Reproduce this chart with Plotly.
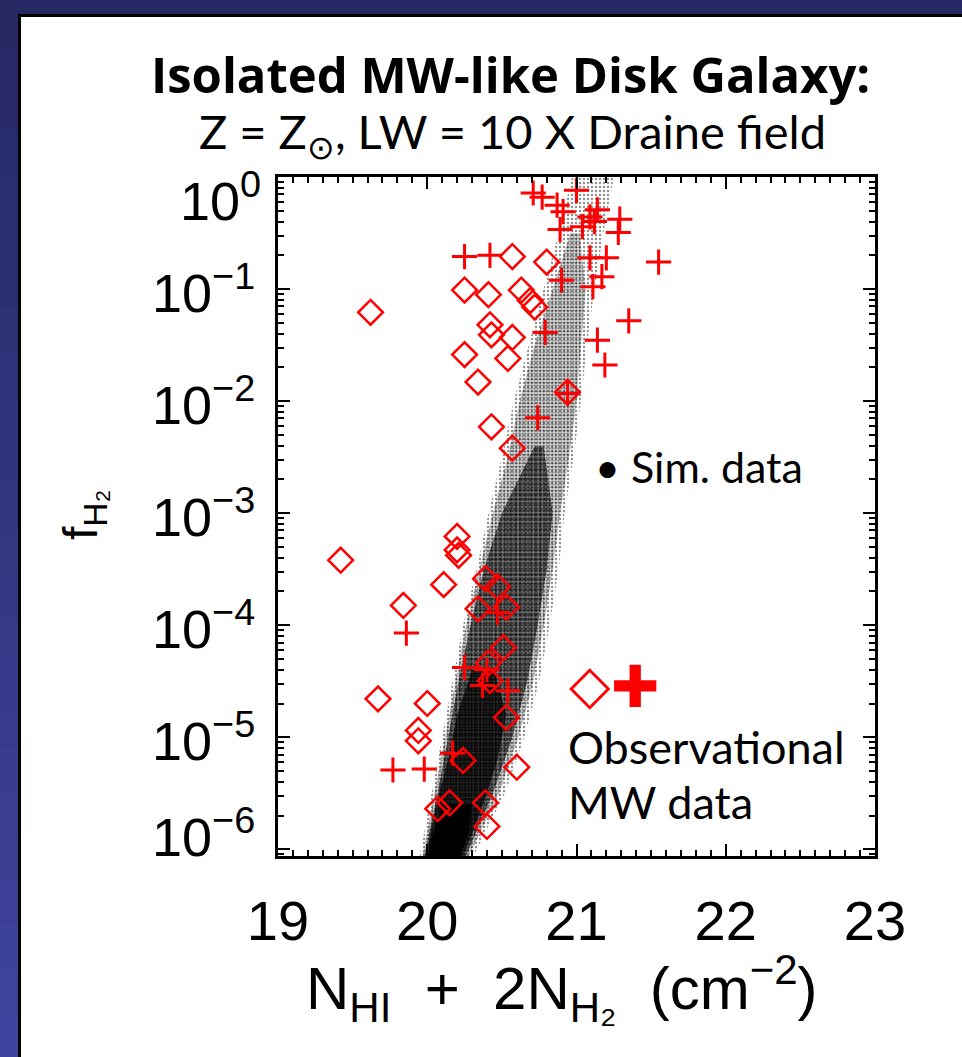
import math
import plotly.graph_objects as go

# ---------------- data ----------------
# Simulation cloud, described by its band edges at several log10(f_H2) levels
sim_logf        = [-6.06, -5.5, -5.0, -4.5, -4.0, -3.5, -3.0, -2.5, -2.0, -1.5, -1.0, -0.5, 0.0]
sim_outer_left  = [19.95, 20.03, 20.10, 20.17, 20.24, 20.33, 20.41, 20.50, 20.58, 20.68, 20.78, 20.88, 20.97]
sim_outer_right = [20.31, 20.52, 20.65, 20.75, 20.82, 20.88, 20.92, 20.98, 21.03, 21.07, 21.12, 21.18, 21.25]

sim_mid_logf    = [-6.06, -5.5, -5.0, -4.5, -4.0, -3.5, -3.0, -2.5, -2.0, -1.5, -1.0, -0.5]
sim_mid_left    = [19.97, 20.05, 20.12, 20.19, 20.26, 20.35, 20.44, 20.54, 20.62, 20.72, 20.84, 20.96]
sim_mid_right   = [20.28, 20.48, 20.61, 20.71, 20.78, 20.84, 20.89, 20.95, 21.00, 21.03, 21.06, 21.02]

sim_core_logf   = [-6.06, -5.5, -5.0, -4.5, -4.0, -3.5, -3.0, -2.4]
sim_core_left   = [19.98, 20.07, 20.14, 20.21, 20.29, 20.38, 20.50, 20.72]
sim_core_right  = [20.26, 20.44, 20.57, 20.67, 20.74, 20.80, 20.84, 20.78]

sim_dense_logf  = [-6.06, -5.8, -5.5, -5.2, -4.8, -4.4]
sim_dense_left  = [19.99, 20.03, 20.08, 20.14, 20.20, 20.30]
sim_dense_right = [20.24, 20.32, 20.40, 20.47, 20.53, 20.45]

sim_solid_logf  = [-6.06, -5.85, -5.6]
sim_solid_left  = [20.00, 20.04, 20.10]
sim_solid_right = [20.22, 20.28, 20.30]

# Observational MW data: diamonds
diam_x = [19.62, 20.57, 20.80, 20.25, 20.41, 20.63, 20.69, 20.72, 20.42, 20.43, 20.57,
          20.25, 20.54, 20.34, 20.43, 20.57, 20.94,
          19.42, 20.20, 20.20, 20.21, 20.11, 19.84, 20.39, 20.47, 20.34, 20.53, 20.51,
          20.41, 19.67, 20.00, 19.94, 19.94, 20.53, 20.24, 20.60, 20.07, 20.15, 20.39, 20.40, 20.42]
diam_f = [6.2e-2, 1.95e-1, 1.74e-1, 9.8e-2, 8.9e-2, 9.8e-2, 7.9e-2, 6.9e-2, 4.8e-2, 3.9e-2, 3.7e-2,
          2.6e-2, 2.4e-2, 1.48e-2, 5.9e-3, 3.8e-3, 1.2e-2,
          3.8e-4, 6.2e-4, 4.7e-4, 4.2e-4, 2.3e-4, 1.5e-4, 2.6e-4, 2.2e-4, 1.4e-4, 1.45e-4, 6.3e-5,
          4.6e-5, 2.2e-5, 2.0e-5, 1.15e-5, 9.3e-6, 1.5e-5, 6.2e-6, 5.4e-6, 2.3e-6, 2.6e-6, 2.6e-6, 1.6e-6, 3.2e-5]

# Observational MW data: crosses
plus_x = [20.25, 20.42, 20.71, 20.77, 20.87, 20.91, 20.89, 20.90, 20.79, 20.94, 20.74,
          21.00, 21.09, 21.14, 21.12, 21.04, 21.29, 21.28, 21.09, 21.20, 21.55, 21.17, 21.11,
          21.35, 21.14, 21.19,
          19.86, 20.47, 20.25, 20.37, 20.54, 20.40, 19.77, 19.98, 20.17]
plus_f = [1.95e-1, 2.0e-1, 7.2e-1, 6.6e-1, 5.6e-1, 4.9e-1, 3.4e-1, 1.2e-1, 4.1e-2, 1.17e-2, 7.1e-3,
          7.6e-1, 4.4e-1, 5.1e-1, 4.0e-1, 3.6e-1, 4.2e-1, 3.2e-1, 1.9e-1, 1.9e-1, 1.74e-1, 1.29e-1, 1.05e-1,
          5.2e-2, 3.5e-2, 2.1e-2,
          8.5e-5, 1.3e-4, 4.2e-5, 2.9e-5, 2.6e-5, 4.0e-5, 5.1e-6, 5.2e-6, 7.2e-6]

x_tickvals = [19, 20, 21, 22, 23]
x_ticktext = ["19", "20", "21", "22", "23"]
y_tickvals = [1e-6, 1e-5, 1e-4, 1e-3, 1e-2, 1e-1, 1e0]
y_ticktext = ["10<sup>\u22126</sup>", "10<sup>\u22125</sup>", "10<sup>\u22124</sup>",
              "10<sup>\u22123</sup>", "10<sup>\u22122</sup>", "10<sup>\u22121</sup>", "10<sup>0</sup>"]
# the two end labels sit slightly inside the frame in the original (pixel nudges)
y_label_yshift = [16, 0, 0, 0, 0, 0, -20]
y_label_right = [257, 257, 257, 257, 257, 257, 263]

# ---------------- layout geometry ----------------
W, H = 962, 1057
L, R, T, B = 278, 875, 177, 856          # plot-area pixel box


def fx(p):
    return (p - L) / (R - L)


def fy(p):
    return (B - p) / (B - T)


def band(logf, left, right):
    xs = list(left) + list(reversed(right))
    ys = [10 ** v for v in logf] + [10 ** v for v in reversed(logf)]
    return xs + [xs[0]], ys + [ys[0]]


fig = go.Figure()


def add_band(logf, left, right, **pattern):
    bx, by = band(logf, left, right)
    fig.add_trace(go.Scatter(x=bx, y=by, mode="lines", fill="toself", line=dict(width=0),
                             fillcolor="rgba(0,0,0,0)", fillpattern=dict(shape=".", **pattern),
                             hoverinfo="skip", showlegend=False))


add_band(sim_logf, sim_outer_left, sim_outer_right,
         fgcolor="rgba(0,0,0,0.85)", bgcolor="rgba(0,0,0,0)", size=4, solidity=0.3)
add_band(sim_mid_logf, sim_mid_left, sim_mid_right,
         fgcolor="rgba(0,0,0,0.9)", bgcolor="rgba(0,0,0,0.14)", size=3, solidity=0.4)
add_band(sim_core_logf, sim_core_left, sim_core_right,
         fgcolor="black", bgcolor="rgba(0,0,0,0.42)", size=5, solidity=0.55)
add_band(sim_dense_logf, sim_dense_left, sim_dense_right,
         fgcolor="black", bgcolor="rgba(0,0,0,0.55)", size=3, solidity=0.7)

sx, sy = band(sim_solid_logf, sim_solid_left, sim_solid_right)
fig.add_trace(go.Scatter(x=sx, y=sy, mode="lines", fill="toself", line=dict(width=0),
                         fillcolor="black", hoverinfo="skip", showlegend=False))

fig.add_trace(go.Scatter(x=diam_x, y=diam_f, mode="markers",
                         marker=dict(symbol="diamond-open", size=19, color="rgb(255,0,0)",
                                     line=dict(width=2.5, color="rgb(255,0,0)")),
                         showlegend=False))
fig.add_trace(go.Scatter(x=plus_x, y=plus_f, mode="markers",
                         marker=dict(symbol="cross-thin-open", size=18, color="rgb(255,0,0)",
                                     line=dict(width=3, color="rgb(255,0,0)")),
                         showlegend=False))

# ---------------- slide background ----------------
shapes = []
top_c = (38, 40, 100)
bot_c = (62, 68, 158)
nb = 24
for i in range(nb):
    t = i / (nb - 1)
    c = tuple(int(round(top_c[k] + (bot_c[k] - top_c[k]) * t)) for k in range(3))
    y0 = H * i / nb
    y1 = H * (i + 1) / nb + 1
    shapes.append(dict(type="rect", xref="paper", yref="paper", layer="below",
                       x0=fx(0), x1=fx(W), y0=fy(y1), y1=fy(y0),
                       fillcolor="rgb(%d,%d,%d)" % c, line=dict(width=0)))
shapes.append(dict(type="rect", xref="paper", yref="paper", layer="below",
                   x0=fx(18), x1=fx(W + 2), y0=fy(H + 2), y1=fy(14),
                   fillcolor="black", line=dict(width=0)))
shapes.append(dict(type="rect", xref="paper", yref="paper", layer="below",
                   x0=fx(21), x1=fx(W + 2), y0=fy(H + 2), y1=fy(17),
                   fillcolor="white", line=dict(width=0)))

slide_font = "Lato, 'Open Sans', sans-serif"
title_font = "'Open Sans', Lato, sans-serif"
axis_font = "'Liberation Sans', Arial, sans-serif"

annotations = [
    dict(text="<b>Isolated MW-like Disk Galaxy:</b>", x=fx(510), y=fy(74),
         font=dict(family=title_font, size=49, color="black", weight=800)),
    dict(text="Z = Z<sub>\u2299</sub>, LW = 10 X Draine field", x=fx(512), y=fy(134),
         font=dict(family=slide_font, size=47, color="black")),
    dict(text="f<sub>H\u2082</sub>", x=fx(84), y=fy(515), textangle=-90,
         font=dict(family=axis_font, size=48, color="black")),
    dict(text="N<sub>HI</sub>\u00a0\u00a0+\u00a0\u00a02N<sub>H\u2082</sub>\u00a0\u00a0(cm<sup>\u22122</sup>)",
         x=fx(562), y=fy(988),
         font=dict(family=axis_font, size=60, color="black")),
    dict(text="\u2022 Sim. data", x=fx(593), y=fy(466), xanchor="left",
         font=dict(family=slide_font, size=43, color="black")),
    dict(text="\u25c7", x=fx(590), y=fy(684),
         font=dict(family="DejaVu Sans", size=54, color="rgb(255,0,0)")),
    dict(text="\u271a", x=fx(635), y=fy(687),
         font=dict(family="DejaVu Sans", size=58, color="rgb(255,0,0)")),
    dict(text="Observational", x=fx(566), y=fy(747), xanchor="left",
         font=dict(family=slide_font, size=45, color="black")),
    dict(text="MW data", x=fx(566), y=fy(802), xanchor="left",
         font=dict(family=slide_font, size=45, color="black")),
]
# y tick labels, placed on the log axis through its own scale
for v, txt, sh, rx in zip(y_tickvals, y_ticktext, y_label_yshift, y_label_right):
    annotations.append(dict(text=txt, xref="paper", yref="y", x=fx(rx), y=math.log10(v),
                            xanchor="right", yanchor="middle", yshift=sh,
                            font=dict(family=axis_font, size=54, color="black")))
for a in annotations:
    a.setdefault("xref", "paper")
    a.setdefault("yref", "paper")
    a["showarrow"] = False
    a.setdefault("xanchor", "center")
    a.setdefault("yanchor", "middle")

minor_y = [m * 10 ** e for e in range(-7, 1) for m in range(2, 10)]

fig.update_layout(
    width=W, height=H,
    margin=dict(l=L, r=W - R, t=T, b=H - B, pad=0),
    paper_bgcolor="rgb(38,40,100)",
    plot_bgcolor="white",
    shapes=shapes,
    annotations=annotations,
    showlegend=False,
    xaxis=dict(range=[19, 23], tickmode="array", tickvals=x_tickvals, ticktext=x_ticktext,
               ticks="inside", ticklen=12, tickwidth=2, tickcolor="black",
               minor=dict(ticks="inside", dtick=0.1, ticklen=6, tickwidth=2, tickcolor="black"),
               showline=True, linewidth=3, linecolor="black", mirror="ticks",
               showgrid=False, zeroline=False, ticklabelstandoff=14,
               tickfont=dict(family=axis_font, size=56, color="black")),
    yaxis=dict(type="log", range=[-6.06, 0], tickmode="array", tickvals=y_tickvals,
               showticklabels=False,
               ticks="inside", ticklen=12, tickwidth=2, tickcolor="black",
               minor=dict(ticks="inside", tickvals=minor_y, ticklen=6, tickwidth=2, tickcolor="black"),
               showline=True, linewidth=3, linecolor="black", mirror="ticks",
               showgrid=False, zeroline=False),
)

fig.write_html("out.html")
